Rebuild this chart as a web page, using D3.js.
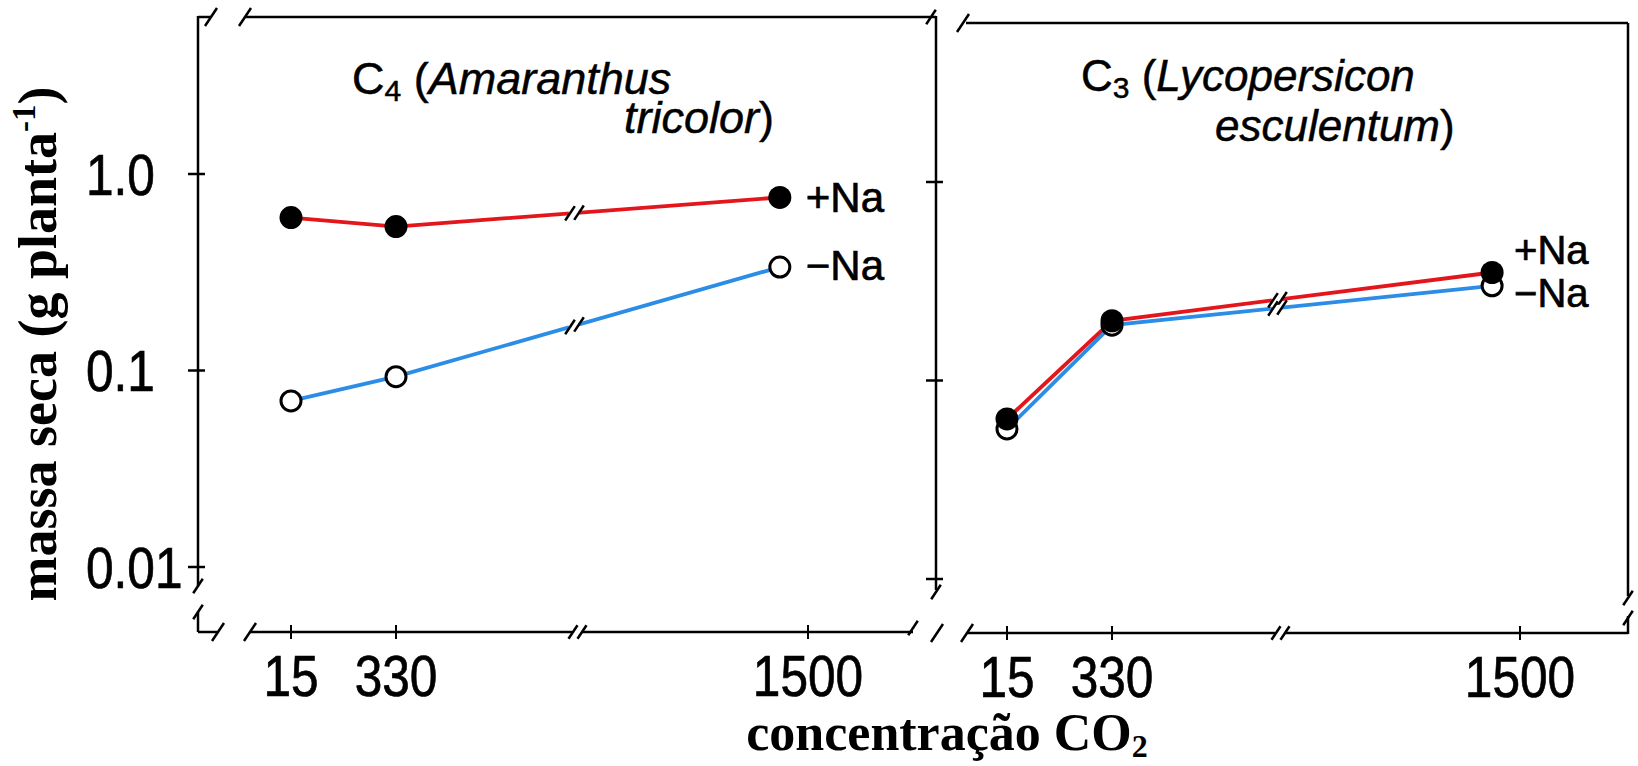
<!DOCTYPE html>
<html>
<head>
<meta charset="utf-8">
<script src="https://cdn.jsdelivr.net/npm/d3@7"></script>
<style>
body { margin: 0; background: #fff; }
svg { display: block; }
.sans { font-family: "Liberation Sans", Arial, Helvetica, sans-serif; stroke: #000; stroke-width: 0.7px; }
.serif { font-family: "Liberation Serif", "Times New Roman", serif; font-weight: bold; }
</style>
</head>
<body>
<svg id="chart" width="1638" height="766"></svg>
<script>
// CO2 levels of the points (the last one sits a bit left of the 1500 tick)
var co2 = [15, 330, 1420];
var xTicks = [15, 330, 1500];
var yTicks = [1.0, 0.1, 0.01];
var yTickLabels = ["1.0", "0.1", "0.01"];

// dry mass, g per plant
var c4Plus = [0.60, 0.54, 0.76];
var c4Minus = [0.070, 0.093, 0.336];
var c3Plus = [0.064, 0.20, 0.35];
var c3Minus = [0.057, 0.19, 0.30];

var RED = "#e3161c", BLUE = "#2b8de6";

var svg = d3.select("#chart");

function seg(g, x1, y1, x2, y2, w, col) {
    return g.append("line")
        .attr("x1", x1).attr("y1", y1).attr("x2", x2).attr("y2", y2)
        .attr("stroke", col || "#000").attr("stroke-width", w || 2.5)
        .attr("stroke-linecap", "butt");
}
function slash(g, x, y, s) {
    s = s || 1;
    seg(g, x - 6*s, y + 9*s, x + 6*s, y - 9*s, 2.5);
}

var panels = [
    {
        left: 198, right: 936, top: 17, axisY: 632,
        xRange: [291, 396, 808], yRange: [567, 174], xBreak: 577,
        plus: c4Plus, minus: c4Minus, yLabels: true,
        labSize: 42, plusLab: {dx: 26, y: 197}, minusLab: {dx: 26, y: 265}
    },
    {
        left: 936, right: 1628, top: 23, axisY: 633,
        xRange: [1007, 1112, 1520], yRange: [579, 182], xBreak: 1280,
        plus: c3Plus, minus: c3Minus, yLabels: false,
        labSize: 40, plusLab: {dx: 22, y: 250}, minusLab: {dx: 22, y: 293}
    }
];

panels.forEach(function(p, pi) {
    var g = svg.append("g");
    var x = d3.scaleLinear().domain(xTicks).range(p.xRange);
    var y = d3.scaleLog().domain([0.01, 1]).range(p.yRange);

    // frame with break marks
    if (pi === 0) {
        seg(g, p.left, p.top, 211, p.top);
        slash(g, 211, p.top);
        seg(g, 245, p.top, p.right, p.top);
        slash(g, 245, p.top);
        slash(g, 931, p.top, 0.8);
        // left axis
        seg(g, p.left, p.top - 1, p.left, 586);
        slash(g, p.left, 586, 0.8);
        seg(g, p.left, 612, p.left, p.axisY);
        slash(g, p.left, 612, 0.8);
        // x axis
        seg(g, p.left, p.axisY, 218, p.axisY);
        slash(g, 218, p.axisY);
        seg(g, 250, p.axisY, 913, p.axisY);
        slash(g, 250, p.axisY);
        slash(g, 913, p.axisY - 4, 0.8);
    } else {
        slash(g, 963, p.top);
        seg(g, 966, p.top, p.right, p.top);
        // shared vertical line
        seg(g, p.left, 16, p.left, 590);
        slash(g, p.left, 592, 0.8);
        slash(g, 937, p.axisY);
        slash(g, 967, p.axisY);
        seg(g, 967, p.axisY, p.right, p.axisY);
        // right border
        seg(g, p.right, p.top, p.right, 596);
        slash(g, p.right, 598, 0.8);
        seg(g, p.right, 616, p.right, p.axisY + 1);
        slash(g, p.right, 618, 0.8);
    }

    // axis break "//" on the x axis
    seg(g, p.xBreak - 5, p.axisY, p.xBreak + 5, p.axisY, 5, "#fff");
    slash(g, p.xBreak - 4, p.axisY, 0.75);
    slash(g, p.xBreak + 5, p.axisY, 0.75);

    // y ticks
    yTicks.forEach(function(t, i) {
        seg(g, p.left - 10, y(t), p.left + 7, y(t), 2.5);
        if (p.yLabels) {
            g.append("text").attr("class", "sans")
                .attr("transform", "translate(86," + y(t) + ") scale(0.87,1)")
                .attr("dy", "0.36em")
                .attr("font-size", 57)
                .text(yTickLabels[i]);
        }
    });

    // x ticks
    xTicks.forEach(function(t) {
        seg(g, x(t), p.axisY - 7, x(t), p.axisY + 7, 2);
        g.append("text").attr("class", "sans")
            .attr("transform", "translate(" + x(t) + "," + (p.axisY + 64) + ") scale(0.87,1)")
            .attr("text-anchor", "middle")
            .attr("font-size", 57)
            .text(t);
    });

    // series lines
    var line = d3.line()
        .x(function(d, i) { return x(co2[i]); })
        .y(function(d) { return y(d); });

    [[p.minus, BLUE], [p.plus, RED]].forEach(function(s) {
        g.append("path").attr("d", line(s[0]))
            .attr("fill", "none").attr("stroke", s[1]).attr("stroke-width", 3.8);
    });

    // break marks on the lines
    [p.plus, p.minus].forEach(function(vals) {
        var x1 = x(co2[1]), x2 = x(co2[2]);
        var y1 = y(vals[1]), y2 = y(vals[2]);
        var xb = p.xBreak - 3;
        var t = (xb - x1) / (x2 - x1);
        var yb = y1 + t * (y2 - y1);
        var k = (y2 - y1) / (x2 - x1);
        seg(g, xb - 5, yb - 5*k, xb + 5, yb + 5*k, 6, "#fff");
        slash(g, xb - 4, yb - 4*k, 0.8);
        slash(g, xb + 5, yb + 5*k, 0.8);
    });

    // markers: open first, filled on top
    g.selectAll("circle.minus").data(p.minus).enter().append("circle")
        .attr("class", "minus")
        .attr("cx", function(d, i) { return x(co2[i]); })
        .attr("cy", function(d) { return y(d); })
        .attr("r", 10).attr("fill", "#fff").attr("stroke", "#000").attr("stroke-width", 3);
    g.selectAll("circle.plus").data(p.plus).enter().append("circle")
        .attr("class", "plus")
        .attr("cx", function(d, i) { return x(co2[i]); })
        .attr("cy", function(d) { return y(d); })
        .attr("r", 11.5).attr("fill", "#000");

    // series labels
    var lx = x(co2[2]);
    g.append("text").attr("class", "sans")
        .attr("x", lx + p.plusLab.dx).attr("y", p.plusLab.y).attr("dy", "0.36em")
        .attr("font-size", p.labSize).text("+Na");
    g.append("text").attr("class", "sans")
        .attr("x", lx + p.minusLab.dx).attr("y", p.minusLab.y).attr("dy", "0.36em")
        .attr("font-size", p.labSize).text("\u2212Na");
});

// panel titles
function title(size, x1, y1, sub, species1, x2, y2, species2) {
    var t = svg.append("text").attr("class", "sans").attr("font-size", size)
        .style("stroke-width", "0.5px")
        .attr("x", x1).attr("y", y1);
    t.append("tspan").text("C");
    t.append("tspan").attr("font-size", 30).attr("dy", 7).text(sub);
    t.append("tspan").attr("dy", -7).text(" (");
    t.append("tspan").attr("font-style", "italic").text(species1);
    var t2 = svg.append("text").attr("class", "sans").attr("font-size", size)
        .style("stroke-width", "0.5px")
        .attr("x", x2).attr("y", y2);
    t2.append("tspan").attr("font-style", "italic").text(species2);
    t2.append("tspan").text(")");
}
title(45, 352, 94, "4", "Amaranthus", 624, 133, "tricolor");
title(44, 1081, 91, "3", "Lycopersicon", 1215, 141, "esculentum");

// axis titles
var yt = svg.append("text").attr("class", "serif")
    .attr("transform", "translate(56,344) rotate(-90)")
    .attr("text-anchor", "middle").attr("font-size", 54);
yt.append("tspan").text("massa seca (g planta");
yt.append("tspan").attr("font-size", 33).attr("dy", -21).text("-1");
yt.append("tspan").attr("dy", 21).text(")");

var xt = svg.append("text").attr("class", "serif")
    .attr("x", 947).attr("y", 750)
    .attr("text-anchor", "middle").attr("font-size", 52);
xt.append("tspan").text("concentra\u00e7\u00e3o CO");
xt.append("tspan").attr("font-size", 32).attr("dy", 7).text("2");
</script>
</body>
</html>
